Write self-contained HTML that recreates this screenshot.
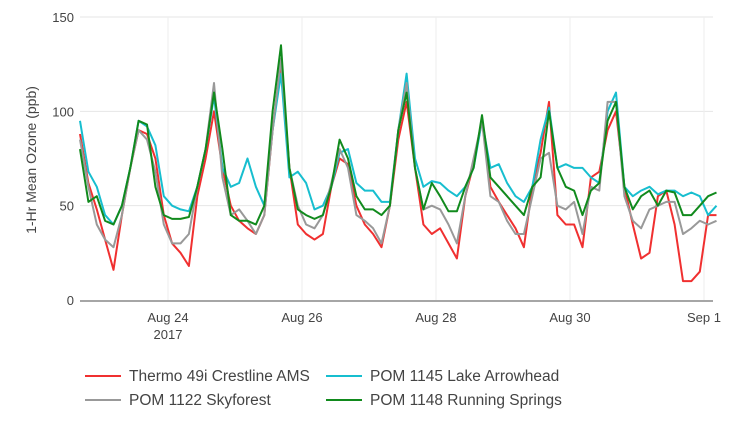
<!DOCTYPE html>
<html><head><meta charset="utf-8"><style>
body{margin:0;background:#fff;width:729px;height:429px;overflow:hidden;font-family:"Liberation Sans",sans-serif}
svg text{font-family:"Liberation Sans",sans-serif;fill:#444}
</style></head><body>
<svg id="c" width="729" height="429"></svg>
<script>
const startHour = 0; // first sample at Aug 22 ~16:30
const stepHours = 3;
const xTickLabels = ["Aug 24","Aug 26","Aug 28","Aug 30","Sep 1"];
const xTickDays = [2,4,6,8,10]; // days after Aug 22 00:00
const yTicks = [0,50,100,150];
const seriesNames = ["Thermo 49i Crestline AMS","POM 1145 Lake Arrowhead","POM 1122 Skyforest","POM 1148 Running Springs"];
const seriesColors = ["#f03030","#17becf","#999999","#118a1d"];
const red = [88,62,48,32,16,45,70,90,88,75,45,30,25,18,55,75,100,70,50,42,38,35,45,90,125,70,40,35,32,35,60,75,72,50,40,35,28,50,85,105,70,40,35,38,30,22,55,72,95,60,52,45,38,28,60,78,105,45,40,40,28,65,68,90,100,60,40,22,25,55,58,40,10,10,15,45,45];
const cyan = [95,68,60,45,40,50,70,95,92,82,55,50,48,47,60,80,108,70,60,62,75,60,50,90,120,65,68,62,48,50,60,78,80,62,58,58,52,52,90,120,75,60,63,62,58,55,60,70,95,70,72,62,55,52,60,85,102,70,72,70,70,65,62,100,110,60,55,58,60,56,58,58,55,57,55,45,50];
const gray = [85,60,40,32,28,45,70,90,85,68,40,30,30,35,60,80,115,65,45,48,42,35,45,90,128,70,50,40,38,45,62,80,70,45,42,38,30,50,90,115,70,48,50,48,40,30,55,75,95,55,52,42,35,35,55,75,78,50,48,52,35,60,58,105,105,55,42,38,48,50,52,52,35,38,42,40,42];
const green = [80,52,55,42,40,50,70,95,93,60,45,43,43,44,60,80,110,80,45,42,42,40,50,100,135,70,48,45,43,45,60,85,75,55,48,48,45,50,90,110,70,48,62,55,47,47,60,70,98,65,60,55,50,45,60,65,100,70,60,58,45,58,62,95,105,60,48,55,58,50,58,57,45,45,50,55,57];
const seriesData = [red, cyan, gray, green];
const drawOrder = [0,1,2,3];

const NS="http://www.w3.org/2000/svg";
const svg=document.getElementById('c');
const X0=80,X1=713,Y0=300,Y150=17;
const pxPerDay=67, dayAt168=2;
function xDay(d){return 168+(d-dayAt168)*pxPerDay;}
function xIdx(i){const hrs=startHour+i*stepHours;return X0+hrs/24*pxPerDay;}
function yVal(v){return Y0-(v/150)*(Y0-Y150);}
function mk(tag,attrs){const e=document.createElementNS(NS,tag);for(const k in attrs)e.setAttribute(k,attrs[k]);svg.appendChild(e);return e;}

yTicks.forEach(t=>{
  if(t>0){const g=mk('line',{x1:X0,x2:X1,y1:yVal(t),y2:yVal(t),stroke:'#e6e6e6','stroke-width':1});
  
  }
  const tx=mk('text',{x:74,y:yVal(t)+5,'text-anchor':'end','font-size':13});
  tx.textContent=t;
  
  
});
xTickDays.forEach((d,i)=>{
  const g=mk('line',{x1:xDay(d),x2:xDay(d),y1:Y150,y2:Y0,stroke:'#eeeeee','stroke-width':1});
  
  
  const tx=mk('text',{x:xDay(d),y:322,'text-anchor':'middle','font-size':13});
  tx.textContent=xTickLabels[i];
  
  
});
const yr=mk('text',{x:xDay(2),y:339,'text-anchor':'middle','font-size':13});
yr.textContent='2017';


const ax=mk('line',{x1:X0,x2:X1,y1:Y0+1,y2:Y0+1,stroke:'#888','stroke-width':1.5});


const yl=mk('text',{x:0,y:0,'text-anchor':'middle','font-size':14,transform:'translate(36,160) rotate(-90)'});
yl.textContent='1-Hr Mean Ozone (ppb)';



drawOrder.forEach(s=>{
  const pts=seriesData[s].map((v,i)=>xIdx(i).toFixed(1)+','+yVal(v).toFixed(1)).join(' ');
  const p=mk('polyline',{points:pts,fill:'none',stroke:seriesColors[s],'stroke-width':2,'stroke-linejoin':'round'});
  
  
});

const legPos=[[85,376],[326,376],[85,400],[326,400]];
seriesNames.forEach((n,s)=>{
  const [lx,ly]=legPos[s];
  const l=mk('line',{x1:lx,x2:lx+36,y1:ly,y2:ly,stroke:seriesColors[s],'stroke-width':2});
  
  
  const t=mk('text',{x:lx+44,y:ly+5,'font-size':15.5});
  t.textContent=n;
  
  
});
</script>
</body></html>
